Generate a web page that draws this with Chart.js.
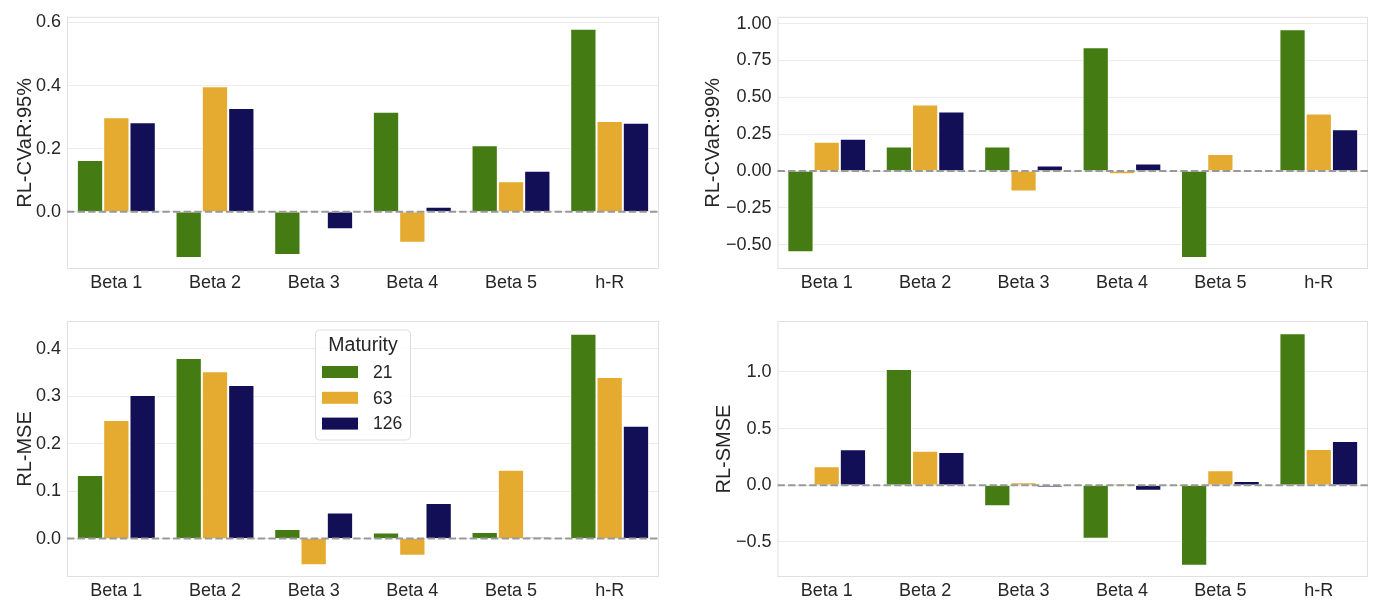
<!DOCTYPE html>
<html>
<head>
<meta charset="utf-8">
<script src="https://cdn.jsdelivr.net/npm/chart.js@4.4.1/dist/chart.umd.min.js"></script>
<style>
body { margin: 0; background: #fff; }
.panel { position: absolute; width: 690px; height: 300px; }
</style>
</head>
<body>
<div class="panel" style="left:0px;top:0px"><canvas id="g1"></canvas></div>
<div class="panel" style="left:690px;top:0px"><canvas id="g2"></canvas></div>
<div class="panel" style="left:0px;top:300px"><canvas id="g3"></canvas></div>
<div class="panel" style="left:690px;top:300px"><canvas id="g4"></canvas></div>
<script>
//--------Datos
const categorias = ["Beta 1", "Beta 2", "Beta 3", "Beta 4", "Beta 5", "h-R"]
const maturities = ["21", "63", "126"]

// RL-CVaR:95%
const cvar95_21 = [0.164, -0.146, -0.137, 0.317, 0.211, 0.580]
const cvar95_63 = [0.300, 0.398, 0.0, -0.098, 0.097, 0.288]
const cvar95_126 = [0.284, 0.329, -0.055, 0.016, 0.130, 0.282]

// RL-CVaR:99%
const cvar99_21 = [-0.551, 0.167, 0.167, 0.839, -0.589, 0.961]
const cvar99_63 = [0.199, 0.451, -0.138, -0.022, 0.116, 0.390]
const cvar99_126 = [0.219, 0.404, 0.038, 0.051, 0.0, 0.283]

// RL-MSE
const mse_21 = [0.134, 0.381, 0.020, 0.013, 0.014, 0.432]
const mse_63 = [0.250, 0.353, -0.056, -0.036, 0.145, 0.341]
const mse_126 = [0.303, 0.324, 0.055, 0.075, 0.003, 0.238]

// RL-SMSE
const smse_21 = [-0.009, 1.026, -0.185, -0.471, -0.709, 1.342]
const smse_63 = [0.168, 0.305, 0.026, 0.014, 0.132, 0.320]
const smse_126 = [0.318, 0.294, -0.015, -0.048, 0.038, 0.392]

// Limites y ticks de cada eje y
const ejeMin = [-0.181, -0.664, -0.081, -0.809]
const ejeMax = [0.618, 1.046, 0.459, 1.450]
const ejePaso = [0.2, 0.25, 0.1, 0.5]
const ejeDecimales = [1, 2, 1, 1]

const colores = ["#457b13", "#e4ab30", "#120f56"]
const fuente = "'Liberation Sans', Arial, sans-serif"
const colorTexto = "#262626"

//--------Plugins
const marco = {
    id: "marco",
    beforeDatasetsDraw(chart) {
        const {ctx, chartArea} = chart
        ctx.save()
        ctx.strokeStyle = "#e0e0e0"
        ctx.lineWidth = 1
        ctx.strokeRect(chartArea.left + 0.5, chartArea.top + 0.5, chartArea.width - 1, chartArea.height - 1)
        ctx.restore()
    }
}

const lineaCero = {
    id: "lineaCero",
    afterDatasetsDraw(chart) {
        const {ctx, chartArea} = chart
        const y = chart.scales.y.getPixelForValue(0)
        ctx.save()
        ctx.strokeStyle = "#999999"
        ctx.lineWidth = 2
        ctx.setLineDash([7.4, 3.2])
        ctx.beginPath()
        ctx.moveTo(chartArea.left, y)
        ctx.lineTo(chartArea.right, y)
        ctx.stroke()
        ctx.restore()
    }
}

const leyenda = {
    id: "leyenda",
    afterDraw(chart) {
        const {ctx, chartArea} = chart
        const cx = (chartArea.left + chartArea.right) / 2
        const top = chartArea.top + 9
        ctx.save()
        ctx.setLineDash([])
        ctx.fillStyle = "rgba(255,255,255,0.85)"
        ctx.strokeStyle = "#dddddd"
        ctx.lineWidth = 1
        ctx.beginPath()
        ctx.roundRect(cx - 47.5, top, 95, 110, 4)
        ctx.fill()
        ctx.stroke()

        ctx.fillStyle = colorTexto
        ctx.textAlign = "center"
        ctx.textBaseline = "middle"
        ctx.font = "19.5px " + fuente
        ctx.fillText("Maturity", cx, top + 16)

        chart.data.datasets.forEach((ds, i) => {
            const y = top + 42 + i * 25.8
            ctx.fillStyle = ds.backgroundColor
            ctx.fillRect(cx - 41, y - 6, 36, 12)
            ctx.fillStyle = colorTexto
            ctx.textAlign = "left"
            ctx.font = "17.5px " + fuente
            ctx.fillText(ds.label, cx + 10, y + 1)
        })
        ctx.restore()
    }
}

//--------Graficas
function crearGrafica(id, titulo, series, i, padding, ejeAncho, ejeAlto, conLeyenda) {
    const datasets = series.map((serie, s) => ({
        label: maturities[s],
        data: serie,
        backgroundColor: colores[s],
        borderColor: "#ffffff",
        borderWidth: 1,
        borderSkipped: "start",
        categoryPercentage: 0.8,
        barPercentage: 1.0
    }))

    const plugins = [marco, lineaCero]
    if (conLeyenda) plugins.push(leyenda)

    return new Chart(document.getElementById(id), {
        type: "bar",
        data: { labels: categorias, datasets: datasets },
        plugins: plugins,
        options: {
            animation: false,
            responsive: true,
            maintainAspectRatio: false,
            layout: { padding: padding },
            plugins: { legend: { display: false }, tooltip: { enabled: false } },
            scales: {
                x: {
                    grid: { display: false, drawTicks: false },
                    border: { display: false },
                    ticks: { color: colorTexto, font: { family: fuente, size: 18 }, padding: 3 },
                    afterFit: (scale) => { scale.height = ejeAlto }
                },
                y: {
                    min: ejeMin[i],
                    max: ejeMax[i],
                    grid: { color: "#ebebeb", lineWidth: 1, drawTicks: false },
                    border: { display: false },
                    ticks: {
                        stepSize: ejePaso[i],
                        includeBounds: false,
                        color: colorTexto,
                        font: { family: fuente, size: 18 },
                        padding: 6,
                        callback: (v) => {
                            if (Math.abs(v) < 1e-9) v = 0
                            return v.toFixed(ejeDecimales[i]).replace("-", "\u2212")
                        }
                    },
                    title: {
                        display: true,
                        text: titulo,
                        color: colorTexto,
                        font: { family: fuente, size: 20 },
                        padding: 0
                    },
                    afterFit: (scale) => { scale.width = ejeAncho }
                }
            }
        }
    })
}

crearGrafica("g1", "RL-CVaR:95%", [cvar95_21, cvar95_63, cvar95_126], 0,
    { left: 13, right: 31, top: 13, bottom: 0 }, 54, 31, false)
crearGrafica("g2", "RL-CVaR:99%", [cvar99_21, cvar99_63, cvar99_126], 1,
    { left: 11, right: 12, top: 13, bottom: 0 }, 76.5, 31, false)
crearGrafica("g3", "RL-MSE", [mse_21, mse_63, mse_126], 2,
    { left: 13, right: 31, top: 21, bottom: 0 }, 54, 23, true)
crearGrafica("g4", "RL-SMSE", [smse_21, smse_63, smse_126], 3,
    { left: 22, right: 12, top: 21, bottom: 0 }, 65.5, 23, false)
</script>
</body>
</html>
